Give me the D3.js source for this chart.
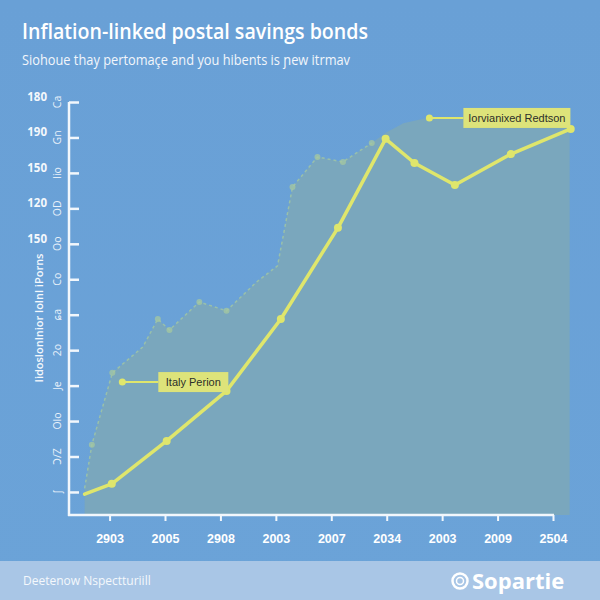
<!DOCTYPE html>
<html>
<head>
<meta charset="utf-8">
<script src="https://cdn.jsdelivr.net/npm/d3@7/dist/d3.min.js"></script>
<style>
  html, body { margin: 0; padding: 0; background: #6aa0d5; }
  svg { display: block; font-family: 'Open Sans', 'Noto Sans', sans-serif; }
</style>
</head>
<body>
<svg id="chart"></svg>
<script>
// categories on the x axis
const xLabels = ['2903', '2005', '2908', '2003', '2007', '2034', '2003', '2009', '2504'];
// y tick labels, bottom to top
const yTickValues = [0, 10, 20, 30, 40, 50, 60, 70, 80, 90, 100, 110];
const yTickLabels = ['ʃ', 'Ↄ/Z', 'Olo', 'Je', '2o', 'ɕa', 'Co', 'Oo', 'OD', 'lio', 'Gn', 'Ca'];
const ySideValues = [110, 100, 90, 80, 70];
const ySideLabels = ['180', '190', '150', '120', '150'];

// shaded range (dashed upper line)
const rangePos = [-0.45, -0.32, 0.05, 0.6, 0.87, 1.08, 1.62, 2.11, 2.65, 3.03, 3.3, 3.75, 4.21, 4.48, 4.73, 5.0, 5.3, 5.7, 6.2, 8.3];
const rangeVal = [1, 13.3, 33.6, 40.9, 48.8, 45.7, 53.6, 51.1, 59.2, 63.8, 86.0, 94.5, 93.1, 95.9, 98.4, 101.5, 104, 105.4, 105.8, 105.8];
const rangeDots = [1, 2, 4, 5, 6, 7, 10, 11, 12, 14];

// bond series (yellow)
const bondPos = [-0.45, 0.04, 1.03, 2.11, 3.09, 4.12, 4.98, 5.5, 6.23, 7.24, 8.32];
const bondVal = [-0.6, 2.3, 14.4, 28.5, 48.8, 74.5, 99.6, 92.8, 86.6, 95.3, 102.4];

// annotations
const noteText = ['Italy Perion', 'Iorvianixed Redtson'];
const notePos = [0.23, 5.77];
const noteVal = [31.0, 105.5];

const W = 600, H = 600;
const svg = d3.select('#chart').attr('width', W).attr('height', H);

const defs = svg.append('defs');
const bg = defs.append('linearGradient').attr('id', 'bg')
  .attr('x1', 0).attr('y1', 0).attr('x2', 0).attr('y2', 1);
bg.append('stop').attr('offset', '0%').attr('stop-color', '#69a0d6');
bg.append('stop').attr('offset', '100%').attr('stop-color', '#6ba3d8');

svg.append('rect').attr('width', W).attr('height', H).attr('fill', 'url(#bg)');
svg.append('rect').attr('y', 561).attr('width', W).attr('height', 39).attr('fill', '#a9c6e6');

const x = d3.scaleLinear().domain([-0.75, 8]).range([68, 553]);
const y = d3.scaleLinear().domain([-6.5, 110]).range([515, 102]);

// shaded area
const rangeData = rangePos.map((p, i) => ({ p, v: rangeVal[i] }));
svg.append('path')
  .datum(rangeData)
  .attr('fill', '#7aa7bd')
  .attr('d', d3.area().x(d => x(d.p)).y0(y(-6.5)).y1(d => y(d.v)));

svg.append('path')
  .datum(rangeData.slice(0, 15))
  .attr('fill', 'none')
  .attr('stroke', '#a6caa0')
  .attr('stroke-opacity', 0.75)
  .attr('stroke-width', 1.5)
  .attr('stroke-dasharray', '3,3')
  .attr('d', d3.line().x(d => x(d.p)).y(d => y(d.v)));

svg.selectAll('.rdot')
  .data(rangeDots.map(i => rangeData[i]))
  .enter().append('circle')
  .attr('cx', d => x(d.p)).attr('cy', d => y(d.v)).attr('r', 3)
  .attr('fill', '#a6c8a0').attr('fill-opacity', 0.75);

// axes
const yAxis = d3.axisRight(y).tickValues(yTickValues).tickSize(10).tickFormat('');
const gy = svg.append('g').attr('transform', 'translate(69,0)').call(yAxis);
gy.select('.domain').remove();
gy.selectAll('line').attr('stroke', '#f2f7fc').attr('stroke-width', 2.5);
svg.append('line').attr('x1', 69).attr('x2', 69).attr('y1', y(110)).attr('y2', 516)
  .attr('stroke', '#f2f7fc').attr('stroke-width', 2.5);

const xAxis = d3.axisBottom(x).tickValues(d3.range(xLabels.length)).tickSize(6)
  .tickFormat(i => xLabels[i]);
const gx = svg.append('g').attr('transform', 'translate(0,515)').call(xAxis);
gx.select('.domain').remove();
gx.selectAll('line').attr('stroke', '#f2f7fc').attr('stroke-width', 2);
gx.selectAll('text').attr('fill', '#ffffff').attr('font-size', 12.5).attr('font-weight', 600)
  .attr('dy', '1.5em');
svg.append('line').attr('x1', 68).attr('x2', 554).attr('y1', 515).attr('y2', 515)
  .attr('stroke', '#f2f7fc').attr('stroke-width', 2.5);

// rotated small y labels
svg.selectAll('.ylab')
  .data(yTickValues)
  .enter().append('text')
  .attr('transform', (d) => `translate(61,${y(d)}) rotate(-90)`)
  .attr('text-anchor', 'middle')
  .attr('font-size', 10.5)
  .attr('fill', '#e9f1fa')
  .text((d, i) => yTickLabels[i]);

svg.selectAll('.yside')
  .data(ySideValues)
  .enter().append('text')
  .attr('x', 47).attr('y', d => y(d) - 1)
  .attr('text-anchor', 'end')
  .attr('font-size', 11.5).attr('font-weight', 700)
  .attr('fill', '#f4f8fc')
  .text((d, i) => ySideLabels[i]);

svg.append('text')
  .attr('transform', 'translate(43,318) rotate(-90)')
  .attr('text-anchor', 'middle')
  .attr('font-size', 11).attr('font-weight', 600)
  .attr('fill', '#f4f8fc')
  .text('Iidoslonlnior lolnl iPorns');

// bond line
const bondData = bondPos.map((p, i) => ({ p, v: bondVal[i] }));
svg.append('path')
  .datum(bondData)
  .attr('fill', 'none')
  .attr('stroke', '#dfe66c')
  .attr('stroke-width', 3.5)
  .attr('stroke-linejoin', 'round')
  .attr('stroke-linecap', 'round')
  .attr('d', d3.line().x(d => x(d.p)).y(d => y(d.v)));

svg.selectAll('.bdot')
  .data(bondData.slice(1))
  .enter().append('circle')
  .attr('cx', d => x(d.p)).attr('cy', d => y(d.v)).attr('r', 4)
  .attr('fill', '#dfe66c');

// annotations
const boxW = [70, 107];
noteText.forEach((t, i) => {
  const cx = x(notePos[i]), cy = y(noteVal[i]);
  const bx = cx + (i === 0 ? 36 : 34);
  svg.append('line').attr('x1', cx).attr('x2', bx).attr('y1', cy).attr('y2', cy)
    .attr('stroke', '#dfe66c').attr('stroke-width', 2);
  svg.append('circle').attr('cx', cx).attr('cy', cy).attr('r', 3.5).attr('fill', '#dfe66c');
  svg.append('rect').attr('x', bx).attr('y', cy - 10).attr('width', boxW[i]).attr('height', 20)
    .attr('fill', '#dde37a');
  svg.append('text').attr('x', bx + boxW[i] / 2).attr('y', cy + 4)
    .attr('text-anchor', 'middle').attr('font-size', 11).attr('fill', '#2c2f2a')
    .attr('font-family', 'Liberation Sans, Arial, sans-serif')
    .text(t);
});

// titles
svg.append('text').attr('x', 22).attr('y', 39)
  .attr('font-size', 22).attr('font-weight', 600).attr('fill', '#ffffff')
  .attr('textLength', 346).attr('lengthAdjust', 'spacingAndGlyphs')
  .text('Inflation-linked postal savings bonds');
svg.append('text').attr('x', 22).attr('y', 65)
  .attr('font-size', 15).attr('fill', '#f2f6fb')
  .attr('textLength', 328).attr('lengthAdjust', 'spacingAndGlyphs')
  .text('Siohoue thay pertomaçe and you hibents is ɲew itrmav');

// footer
svg.append('text').attr('x', 23).attr('y', 585)
  .attr('font-size', 12).attr('fill', '#f4f8fc')
  .text('Deetenow Nspectturiill');
svg.append('circle').attr('cx', 460).attr('cy', 581).attr('r', 7.5)
  .attr('fill', 'none').attr('stroke', '#ffffff').attr('stroke-width', 2.5);
svg.append('circle').attr('cx', 460).attr('cy', 581).attr('r', 3.5)
  .attr('fill', 'none').attr('stroke', '#ffffff').attr('stroke-width', 1.5);
svg.append('text').attr('x', 472).attr('y', 589)
  .attr('font-size', 22).attr('font-weight', 700).attr('fill', '#ffffff')
  .text('Sopartie');
</script>
</body>
</html>
